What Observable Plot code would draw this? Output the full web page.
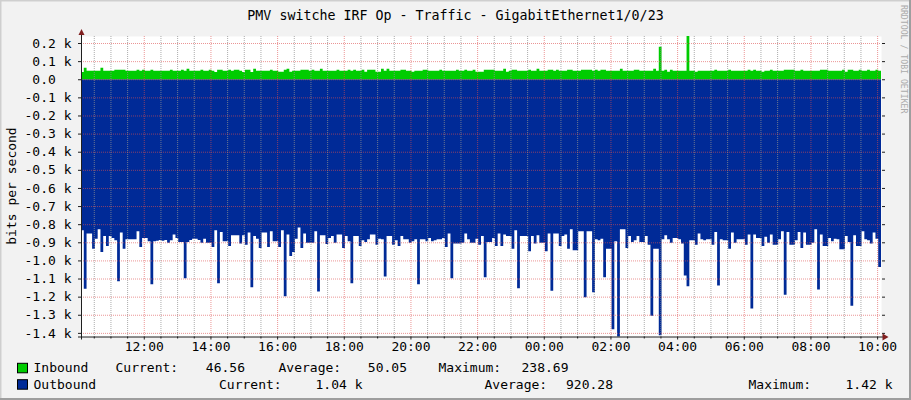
<!DOCTYPE html>
<html>
<head>
<meta charset="utf-8">
<script src="https://cdn.jsdelivr.net/npm/d3@7"></script>
<script src="https://cdn.jsdelivr.net/npm/@observablehq/plot@0.6"></script>
<style>
html,body{margin:0;padding:0;background:#F2F2F2;}
#chart{position:relative;width:911px;height:400px;overflow:hidden;background:#F2F2F2;}
</style>
</head>
<body>
<div id="chart"></div>
<script>
// ---- data (5-minute samples, 24 h) ----
const startUTC = Date.UTC(2024, 4, 14, 10, 7);
const stepMinutes = 5;

const inbound = [
  40,63,47,47,47,47,47,63,47,47,47,47,52,52,52,52,47,47,47,47,52,47,52,47,
  47,52,47,47,47,47,47,47,52,47,47,47,52,47,58,47,47,47,47,52,47,47,52,47,
  40,52,52,47,47,52,47,52,52,47,40,52,52,40,58,47,47,47,47,47,52,47,47,42,
  42,52,58,42,47,47,47,52,52,52,47,52,47,47,58,47,47,47,47,47,52,47,47,47,
  52,47,52,47,47,52,42,52,52,52,42,42,58,47,58,47,47,47,47,52,52,47,47,42,
  47,47,47,52,52,47,47,47,47,52,47,47,47,47,47,52,47,47,52,47,47,52,42,42,
  42,52,52,52,52,47,47,47,58,42,47,52,52,47,47,47,47,52,47,47,58,47,47,47,
  52,52,47,52,47,47,47,52,52,47,47,47,52,52,52,52,47,52,47,52,52,47,47,47,
  47,47,58,47,47,47,47,52,52,47,47,47,47,47,58,47,180,47,52,42,52,47,47,47,
  47,47,238.69,47,47,42,47,47,47,47,47,47,52,47,47,47,47,52,47,47,47,47,47,47,
  52,47,52,47,47,42,47,47,52,47,47,47,47,52,52,52,52,47,47,52,47,47,47,47,
  47,47,52,52,52,47,47,47,47,47,52,42,52,52,47,47,52,47,47,52,47,47,52,46.56
];

const outbound = [
  833,1157,852,852,935,880,828,954,865,920,865,876,889,1115,846,935,883,883,883,883,839,926,876,876,
  894,1131,894,891,887,891,887,902,889,857,876,898,898,1098,898,887,880,880,887,902,880,902,902,926,
  833,1126,843,894,894,920,861,861,861,907,861,913,846,1148,865,880,931,846,846,926,839,894,894,926,
  833,1198,857,976,954,880,819,931,852,902,902,902,839,1172,861,861,909,876,865,902,857,857,931,865,
  894,1126,865,865,920,889,898,883,857,857,913,880,883,1089,865,865,913,889,920,865,883,883,902,894,
  883,1131,883,883,894,876,894,889,883,883,876,926,852,1098,907,907,907,902,852,883,902,902,880,913,
  865,1093,898,898,876,920,852,920,857,865,865,935,833,1154,865,865,865,950,865,907,861,902,902,950,
  852,1167,852,852,920,865,857,935,828,944,944,839,839,1204,839,839,1176,883,889,880,1093,935,935,1380,
  894,1420,828,828,931,865,898,889,865,898,898,865,913,1306,935,935,1413,883,861,883,902,876,876,883,
  907,1083,1143,889,889,913,852,883,889,883,883,913,843,1139,883,889,889,935,846,902,883,883,883,913,
  857,1265,857,876,876,920,870,902,857,913,913,883,839,1189,843,913,913,889,843,931,846,913,913,902,
  828,1161,857,920,920,876,894,880,883,939,939,865,898,1250,861,920,920,839,883,889,907,846,880,1037
];

const yTickValues = [200,100,0,-100,-200,-300,-400,-500,-600,-700,-800,-900,-1000,-1100,-1200,-1300,-1400];
const yDomain = [-1420, 238.69];

const titleText = "PMV switche IRF Op - Traffic - GigabitEthernet1/0/23";
const yLabelText = "bits per second";
const watermarkText = "RRDTOOL / TOBI OETIKER";
const seriesNames = ["Inbound", "Outbound"];
const seriesColors = ["#00CC00", "#002A97"];
const currentLabels = ["46.56", "1.04 k"];
const averageLabels = ["50.05", "920.28"];
const maximumLabels = ["238.69", "1.42 k"];

// ---- build tables ----
const t0 = new Date(startUTC);
const t1 = new Date(startUTC + 24 * 60 * 60 * 1000);
function toRows(values) {
  const rows = values.map((v, i) => ({t: new Date(startUTC + i * stepMinutes * 60000), v}));
  rows.push({t: t1, v: values[values.length - 1]});
  return rows;
}
const inRows = toRows(inbound);
const outRows = toRows(outbound);

const majorTicks = d3.utcHour.every(2).range(t0, t1);
const minorTicks = d3.utcMinute.every(30).range(t0, t1)
  .filter(d => !(d.getUTCMinutes() === 0 && d.getUTCHours() % 2 === 0));

const fmtY = v => v === 0 ? "0.0\u00a0\u00a0" : (v / 1000).toFixed(1) + " k";
const gridMinor = {stroke: "#8f8f8f", strokeOpacity: 0.75, strokeDasharray: "1,1"};
const gridMajor = {stroke: "#de4f4f", strokeOpacity: 0.6, strokeDasharray: "1,1"};
const FONT = "'DejaVu Sans Mono', monospace";

const plot = Plot.plot({
  width: 911,
  height: 400,
  marginLeft: 81,
  marginRight: 30,
  marginTop: 36,
  marginBottom: 63.5,
  x: {type: "utc", domain: [t0, t1]},
  y: {domain: yDomain},
  style: {background: "transparent", fontFamily: FONT, fontSize: "13px", color: "#000", overflow: "visible"},
  marks: [
    Plot.frame({fill: "#FFFFFF", stroke: null}),
    Plot.areaY(outRows, {x: "t", y: d => -d.v, curve: "step-after", fill: seriesColors[1]}),
    Plot.areaY(inRows, {x: "t", y: "v", curve: "step-after", fill: seriesColors[0]}),
    Plot.ruleX(minorTicks, gridMinor),
    Plot.ruleX(majorTicks, gridMajor),
    Plot.ruleY(yTickValues, gridMajor),
    Plot.axisY({ticks: yTickValues, tickSize: 3, tickPadding: 7, tickFormat: fmtY, label: null, stroke: "#1f1f1f"}),
    Plot.axisY({anchor: "right", ticks: yTickValues, tickSize: 3, tickFormat: () => "", label: null, stroke: "#1f1f1f"}),
    Plot.axisX({ticks: majorTicks, tickSize: 3, tickPadding: 2, tickFormat: d3.utcFormat("%H:%M"), label: null, stroke: "#1f1f1f"}),
    Plot.axisX({ticks: minorTicks, tickSize: 2, tickFormat: () => "", label: null, stroke: "#1f1f1f"}),
    Plot.ruleX([t0], {stroke: "#1f1f1f", insetTop: -1, insetBottom: -3}),
    Plot.ruleY([yDomain[0]], {stroke: "#1f1f1f", insetLeft: -3, insetRight: -2})
  ]
});

document.getElementById("chart").appendChild(plot);

// ---- decorations ----
const svg = d3.select(plot);
const X = plot.scale("x"), Y = plot.scale("y");
const ax = X.apply(t0) + 0.5, ay = Y.apply(yDomain[0]) + 0.5, ex = X.apply(t1) + 0.5;
const arrow = "#801f1f";
svg.append("path").attr("d", `M${ax - 3},35L${ax + 3},35L${ax},29Z`).attr("fill", arrow);
svg.append("path").attr("d", `M${ex + 1},${ay - 3.5}L${ex + 1},${ay + 3.5}L${ex + 7},${ay}Z`).attr("fill", arrow);

// border shading
svg.append("rect").attr("x", 0).attr("y", 0).attr("width", 911).attr("height", 1.5).attr("fill", "#CFCFCF");
svg.append("rect").attr("x", 0).attr("y", 0).attr("width", 1.5).attr("height", 400).attr("fill", "#CFCFCF");
svg.append("rect").attr("x", 909).attr("y", 0).attr("width", 2).attr("height", 400).attr("fill", "#9E9E9E");
svg.append("rect").attr("x", 0).attr("y", 398).attr("width", 911).attr("height", 2).attr("fill", "#9E9E9E");

function txt(x, y, s, opts = {}) {
  return svg.append("text")
    .attr("x", x).attr("y", y)
    .attr("font-family", FONT)
    .attr("font-size", opts.size || 13)
    .attr("fill", opts.fill || "#000")
    .attr("text-anchor", opts.anchor || "start")
    .attr("transform", opts.transform || null)
    .style("white-space", "pre")
    .text(s);
}

txt(455.5, 19.5, titleText, {size: 13.3, anchor: "middle"});
txt(0, 0, yLabelText, {anchor: "middle", transform: "translate(15.5,186) rotate(-90)"});
txt(0, 0, watermarkText, {size: 8.2, fill: "#ababab", transform: "translate(900.8,5) rotate(90)"});

// legend
const rowBase = [372.3, 388.7];
const layout = [
  {cur: 115.5, curV: 245, avg: 278.5, avgV: 407, max: 438.5, maxV: 568.5},
  {cur: 219, curV: 362.5, avg: 484.5, avgV: 613, max: 748.5, maxV: 892.5}
];
seriesNames.forEach((name, i) => {
  const b = rowBase[i], L = layout[i];
  svg.append("rect").attr("x", 17.5).attr("y", b - 9).attr("width", 10).attr("height", 9.5)
    .attr("fill", seriesColors[i]).attr("stroke", "#000").attr("stroke-width", 1);
  txt(33.5, b, name);
  txt(L.cur, b, "Current:");
  txt(L.curV, b, currentLabels[i], {anchor: "end"});
  txt(L.avg, b, "Average:");
  txt(L.avgV, b, averageLabels[i], {anchor: "end"});
  txt(L.max, b, "Maximum:");
  txt(L.maxV, b, maximumLabels[i], {anchor: "end"});
});
</script>
</body>
</html>
